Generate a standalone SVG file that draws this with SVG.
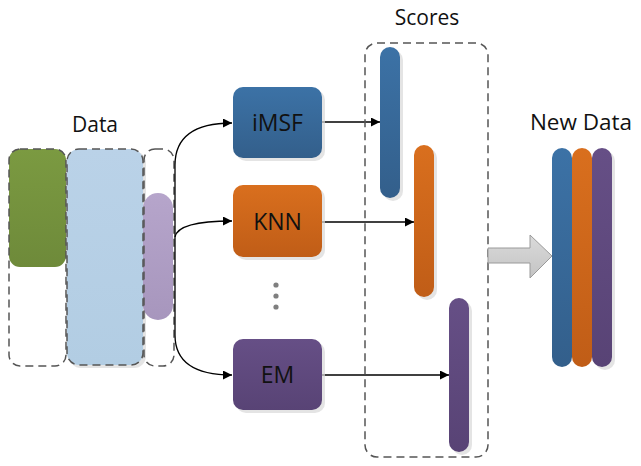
<svg xmlns="http://www.w3.org/2000/svg" width="641" height="466" viewBox="0 0 641 466">
<style>
.lbl{font-family:"Open Sans","Liberation Sans",sans-serif;font-size:21px;fill:#111;text-anchor:middle}
.big{font-size:23px}
.dash{fill:none;stroke:#555;stroke-width:1.5;stroke-dasharray:8,5}
.con{fill:none;stroke:#000;stroke-width:1.3}
.sh{fill:#d9d9d9;opacity:0.7}
</style>
<defs>
<marker id="ah" viewBox="0 0 10 10" refX="10" refY="5" markerWidth="9" markerHeight="9" markerUnits="userSpaceOnUse" orient="auto"><path d="M0,0 L10,5 L0,10 z" fill="#000"/></marker>
<linearGradient id="gBlue" x1="0" y1="0" x2="0" y2="1"><stop offset="0" stop-color="#3c72a6"/><stop offset="1" stop-color="#335f8b"/></linearGradient>
<linearGradient id="gOrange" x1="0" y1="0" x2="0" y2="1"><stop offset="0" stop-color="#d96f1e"/><stop offset="1" stop-color="#c05d17"/></linearGradient>
<linearGradient id="gPurple" x1="0" y1="0" x2="0" y2="1"><stop offset="0" stop-color="#664f86"/><stop offset="1" stop-color="#584375"/></linearGradient>
<linearGradient id="gGreen" x1="0" y1="0" x2="0" y2="1"><stop offset="0" stop-color="#7b9a41"/><stop offset="1" stop-color="#6e8a3a"/></linearGradient>
<linearGradient id="gLBlue" x1="0" y1="0" x2="0" y2="1"><stop offset="0" stop-color="#bad2e8"/><stop offset="1" stop-color="#b2cde3"/></linearGradient>
<linearGradient id="gLPurple" x1="0" y1="0" x2="0" y2="1"><stop offset="0" stop-color="#b6a5cb"/><stop offset="1" stop-color="#a796bd"/></linearGradient>
<linearGradient id="gGray" x1="0" y1="0" x2="0" y2="1"><stop offset="0" stop-color="#dadada"/><stop offset="1" stop-color="#c4c4c4"/></linearGradient>
</defs>

<g id="data">
<text class="lbl" x="95" y="132">Data</text>
<rect class="sh" x="69" y="151" width="77" height="217" rx="12"/>
<rect x="9" y="149" width="57" height="118" rx="11" fill="url(#gGreen)"/>
<rect x="67" y="149" width="76" height="216" rx="12" fill="url(#gLBlue)"/>
<rect x="143" y="193" width="30" height="127" rx="15" fill="url(#gLPurple)"/>
<rect class="dash" x="9" y="149" width="57" height="217" rx="11"/>
<rect class="dash" x="67" y="149" width="76" height="216" rx="12"/>
<rect class="dash" x="144" y="149" width="30" height="217" rx="11"/>
</g>

<g id="connectors">
<path class="con" d="M175,237 L175,165 Q175,123 232,123" marker-end="url(#ah)"/>
<path class="con" d="M175,237 Q178,221 232,221" marker-end="url(#ah)"/>
<path class="con" d="M175,237 L175,335 Q175,375 232,375" marker-end="url(#ah)"/>
<path class="con" d="M322,122 L380,122" marker-end="url(#ah)"/>
<path class="con" d="M322,222 L414,222" marker-end="url(#ah)"/>
<path class="con" d="M322,375 L449,375" marker-end="url(#ah)"/>
</g>

<g id="imsf">
<rect class="sh" x="236" y="90" width="89" height="71" rx="10"/>
<rect x="233" y="87" width="89" height="71" rx="10" fill="url(#gBlue)"/>
<text class="lbl big" x="277.5" y="131">iMSF</text>
</g>
<g id="knn">
<rect class="sh" x="236" y="188" width="89" height="72" rx="10"/>
<rect x="233" y="185" width="89" height="72" rx="10" fill="url(#gOrange)"/>
<text class="lbl big" x="277.5" y="230">KNN</text>
</g>
<g id="dots" fill="#7f7f7f">
<circle cx="276" cy="285" r="2.6"/>
<circle cx="276" cy="296" r="2.6"/>
<circle cx="276" cy="307" r="2.6"/>
</g>
<g id="em">
<rect class="sh" x="236" y="342" width="89" height="71" rx="10"/>
<rect x="233" y="339" width="89" height="71" rx="10" fill="url(#gPurple)"/>
<text class="lbl big" x="277.5" y="383">EM</text>
</g>

<g id="scores">
<text class="lbl" x="427" y="25">Scores</text>
<rect class="sh" x="383" y="50" width="20" height="151" rx="10"/>
<rect x="380" y="47" width="20" height="151" rx="10" fill="url(#gBlue)"/>
<rect class="sh" x="417" y="148" width="20" height="152" rx="10"/>
<rect x="414" y="145" width="20" height="152" rx="10" fill="url(#gOrange)"/>
<rect class="sh" x="452" y="301" width="20" height="154" rx="10"/>
<rect x="449" y="298" width="20" height="154" rx="10" fill="url(#gPurple)"/>
<rect class="dash" x="365" y="43" width="123" height="414" rx="12"/>
</g>

<g id="arrow">
<path d="M488,248 L530,248 L530,235 L552,256 L530,278 L530,263 L488,263 z" fill="url(#gGray)" stroke="#9a9a9a" stroke-width="1"/>
</g>

<g id="newdata">
<text class="lbl" x="581" y="130" style="font-size:22.5px">New Data</text>
<rect class="sh" x="595" y="151" width="20" height="219" rx="10"/>
<rect x="592" y="148" width="20" height="219" rx="10" fill="url(#gPurple)"/>
<rect x="572" y="148" width="20" height="219" rx="10" fill="url(#gOrange)"/>
<rect x="552" y="148" width="20" height="219" rx="10" fill="url(#gBlue)"/>
</g>
</svg>
